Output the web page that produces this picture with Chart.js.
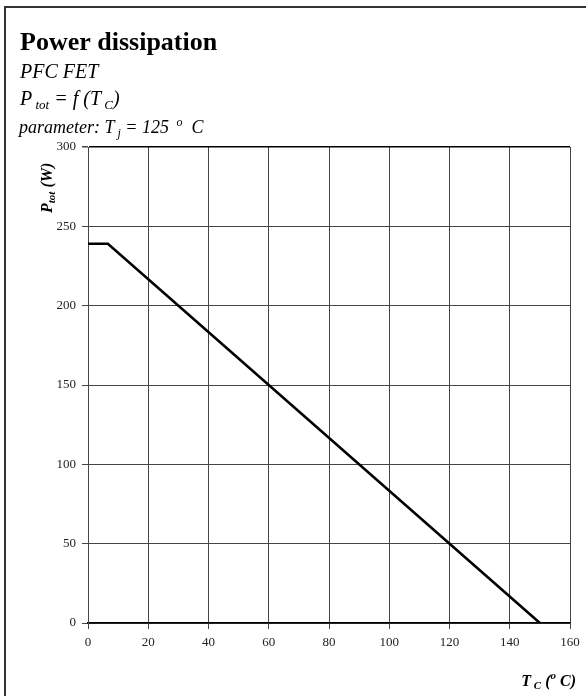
<!DOCTYPE html>
<html>
<head>
<meta charset="utf-8">
<script src="https://cdn.jsdelivr.net/npm/chart.js@4"></script>
<style>
  body { margin: 0; background: #fff; }
</style>
</head>
<body>
<canvas id="myChart" width="586" height="696"></canvas>
<script>
// data
const caseTemp = [0, 6.6, 150]
const powerTot = [239, 239, 0]
const xTicks = [0, 20, 40, 60, 80, 100, 120, 140, 160]
const yTicks = [0, 50, 100, 150, 200, 250, 300]

const serif = "'Liberation Serif', 'Times New Roman', serif"
const gridColor = "#454545"

// draw a run of text pieces (for subscripts / superscripts)
function drawRuns(c, x, y, runs) {
  runs.forEach((r) => {
    c.font = r.f
    c.fillText(r.t, x, y + (r.dy || 0))
    x += c.measureText(r.t).width
  })
  return x
}
function runsWidth(c, runs) {
  let w = 0
  runs.forEach((r) => {
    c.font = r.f
    w += c.measureText(r.t).width
  })
  return w
}

const it20 = "italic 20px " + serif
const it18 = "italic 18px " + serif
const it13 = "italic 13px " + serif
const it12 = "italic 12px " + serif
const bi16 = "bold italic 16px " + serif
const bi11 = "bold italic 11px " + serif

const labelsPlugin = {
  id: "labels",
  beforeDraw(chart) {
    const c = chart.ctx
    c.save()
    // frame
    c.strokeStyle = "#333"
    c.lineWidth = 2
    c.beginPath()
    c.moveTo(5, 696)
    c.lineTo(5, 7)
    c.lineTo(586, 7)
    c.stroke()
    c.restore()
  },
  afterDraw(chart) {
    const c = chart.ctx
    c.save()
    c.fillStyle = "#000"
    c.textBaseline = "alphabetic"
    c.textAlign = "left"
    c.font = "bold 26px " + serif
    c.fillText("Power dissipation", 20, 50)
    c.font = it20
    c.fillText("PFC FET", 20, 78)
    drawRuns(c, 20, 105, [
      { t: "P", f: it20 },
      { t: " tot", f: it13, dy: 4 },
      { t: " = f (T", f: it20 },
      { t: " C", f: it13, dy: 4 },
      { t: ")", f: it20 },
    ])
    drawRuns(c, 19, 133, [
      { t: "parameter: T", f: it18 },
      { t: " j", f: it12, dy: 4 },
      { t: " = 125 ", f: it18 },
      { t: " o", f: it12, dy: -7 },
      { t: "  C", f: it18 },
    ])

    // y axis title, rotated
    c.save()
    c.translate(52, 213)
    c.rotate(-Math.PI / 2)
    drawRuns(c, 0, 0, [
      { t: "P", f: bi16 },
      { t: "tot", f: bi11, dy: 3 },
      { t: " (W)", f: bi16 },
    ])
    c.restore()

    // x axis title, right aligned
    const xRuns = [
      { t: "T", f: bi16 },
      { t: " C", f: bi11, dy: 3 },
      { t: " (", f: bi16 },
      { t: "o", f: bi11, dy: -7 },
      { t: " C)", f: bi16 },
    ]
    drawRuns(c, 576 - runsWidth(c, xRuns), 686, xRuns)
    c.restore()
  },
}

const ctx = document.getElementById("myChart")
const data = {
  datasets: [
    {
      label: "Ptot",
      data: caseTemp.map((t, i) => ({ x: t, y: powerTot[i] })),
      borderColor: "#000",
      borderWidth: 2.6,
      pointRadius: 0,
      tension: 0,
      fill: false,
    },
  ],
}
const config = {
  type: "line",
  data: data,
  options: {
    responsive: false,
    animation: false,
    layout: {
      padding: { left: 0, right: 16, top: 147, bottom: 0 },
    },
    plugins: {
      legend: { display: false },
      tooltip: { enabled: false },
    },
    scales: {
      x: {
        type: "linear",
        min: 0,
        max: 160,
        afterFit: (s) => { s.height = 73 },
        afterBuildTicks: (s) => { s.ticks = xTicks.map((v) => ({ value: v })) },
        ticks: {
          font: { family: serif, size: 13 },
          color: "#222",
          padding: 6,
          maxRotation: 0,
        },
        grid: {
          color: gridColor,
          tickColor: gridColor,
          tickLength: 6,
          lineWidth: 1,
        },
        border: { color: "#000", width: 1.5 },
      },
      y: {
        min: 0,
        max: 300,
        afterFit: (s) => { s.width = 88 },
        afterBuildTicks: (s) => { s.ticks = yTicks.map((v) => ({ value: v })) },
        ticks: {
          font: { family: serif, size: 13 },
          color: "#222",
          padding: 6,
        },
        grid: {
          color: (c) => (c.tick && c.tick.value === 300 ? "#000" : gridColor),
          lineWidth: (c) => (c.tick && c.tick.value === 300 ? 1.5 : 1),
          tickColor: gridColor,
          tickLength: 6,
        },
        border: { color: gridColor, width: 1 },
      },
    },
  },
  plugins: [labelsPlugin],
}

new Chart(ctx, config)
</script>
</body>
</html>
